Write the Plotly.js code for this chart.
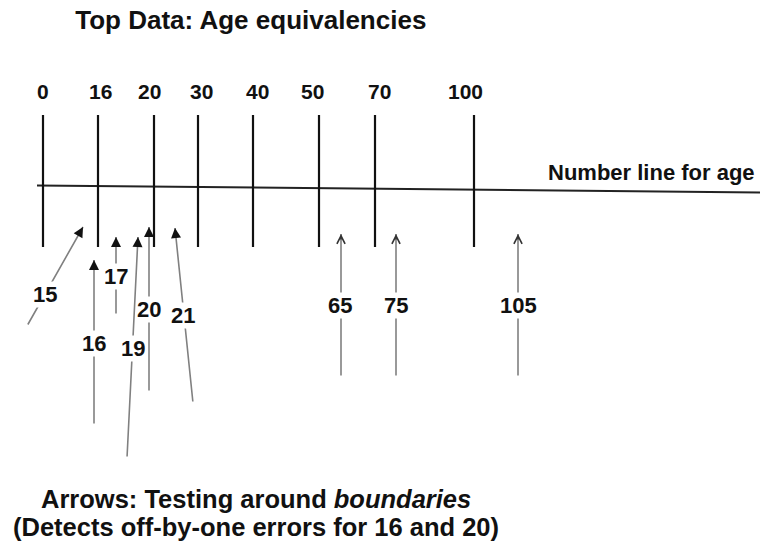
<!DOCTYPE html>
<html>
<head>
<meta charset="utf-8">
<script src="https://cdn.plot.ly/plotly-3.0.1.min.js"></script>
<style>html,body{margin:0;padding:0;background:#fff;}#chart{width:760px;height:543px;}</style>
</head>
<body>
<div id="chart"></div>
<script>
// Number line tick marks (labels and their place along the drawn line)
const tickLabels = ['0', '16', '20', '30', '40', '50', '70', '100'];
const tickX = [43, 98, 154, 198, 253, 319, 375, 474];
const tickLabelX = [43, 100, 149, 201, 257, 312, 379, 465];

// Number line itself
const lineX = [37, 760];
const lineY = [185.5, 192.5];

// Test-value arrows
const arrowLabels = ['15', '16', '17', '19', '20', '21', '65', '75', '105'];
const arrowTipX = [83, 94, 116, 138, 149, 175, 341, 396, 518];
const arrowTipY = [227, 260, 237, 237, 227, 228, 234, 234, 234];
const arrowTailX = [27, 94, 116, 127, 149, 193, 341, 396, 518];
const arrowTailY = [326, 425, 315, 458, 392, 403, 377, 377, 377];
const arrowLabelX = [45, 94, 116, 133, 149, 183, 340, 396, 518];
const arrowLabelY = [294, 343, 276, 348, 309, 315, 305, 305, 305];
const arrowFilled = [true, true, true, true, true, true, false, false, false];

const FONT = 'Liberation Sans, Arial, Helvetica, sans-serif';

// tick segments
const tx = [], ty = [];
tickX.forEach(x => { tx.push(x, x, null); ty.push(115, 247, null); });

const traces = [
  {x: lineX, y: lineY, mode: 'lines', line: {color: '#222', width: 2}, hoverinfo: 'skip', showlegend: false},
  {x: tx, y: ty, mode: 'lines', line: {color: '#111', width: 2.2}, hoverinfo: 'skip', showlegend: false}
];

const annotations = [];
// Tick labels
tickLabels.forEach((t, i) => {
  annotations.push({x: tickLabelX[i], y: 91, xref: 'x', yref: 'y', text: '<b>' + t + '</b>',
    showarrow: false, font: {family: FONT, size: 21, color: '#111'}});
});
// Arrow shafts (gray)
arrowLabels.forEach((t, i) => {
  annotations.push({x: arrowTipX[i], y: arrowTipY[i], ax: arrowTailX[i], ay: arrowTailY[i],
    xref: 'x', yref: 'y', axref: 'x', ayref: 'y', text: '', showarrow: true,
    arrowhead: 0, arrowwidth: 1.6, arrowcolor: '#808080'});
});
// Arrow heads (dark), drawn over the shaft tip
arrowLabels.forEach((t, i) => {
  const dx = arrowTailX[i] - arrowTipX[i], dy = arrowTailY[i] - arrowTipY[i];
  const len = Math.sqrt(dx * dx + dy * dy);
  const back = 7;
  annotations.push({x: arrowTipX[i], y: arrowTipY[i],
    ax: arrowTipX[i] + dx / len * back, ay: arrowTipY[i] + dy / len * back,
    xref: 'x', yref: 'y', axref: 'x', ayref: 'y', text: '', showarrow: true,
    arrowhead: arrowFilled[i] ? 2 : 5, arrowsize: arrowFilled[i] ? 1.25 : 1.0, arrowwidth: 1.6,
    arrowcolor: arrowFilled[i] ? '#111' : '#333'});
});
arrowLabels.forEach((t, i) => {
  annotations.push({x: arrowLabelX[i], y: arrowLabelY[i], xref: 'x', yref: 'y',
    text: '<b>' + t + '</b>', showarrow: false, bgcolor: '#fff', borderpad: 0,
    font: {family: FONT, size: 22, color: '#111'}});
});
// Line label
annotations.push({x: 757, y: 172, xref: 'x', yref: 'y', xanchor: 'right', text: '<b>Number line for age</b>',
  showarrow: false, font: {family: FONT, size: 22, color: '#111'}});
// Bottom caption
annotations.push({x: 256, y: 499, xref: 'x', yref: 'y', text: '<b>Arrows: Testing around <i>boundaries</i></b>',
  showarrow: false, font: {family: FONT, size: 25.5, color: '#111'}});
annotations.push({x: 256, y: 527, xref: 'x', yref: 'y', text: '<b>(Detects off-by-one errors for 16 and 20)</b>',
  showarrow: false, font: {family: FONT, size: 25.5, color: '#111'}});

const layout = {
  width: 760, height: 543,
  margin: {l: 0, r: 0, t: 0, b: 0},
  paper_bgcolor: '#fff', plot_bgcolor: '#fff',
  title: {text: '<b>Top Data: Age equivalencies</b>', x: 0.33, xanchor: 'center', y: 0.963, yanchor: 'middle',
    font: {family: FONT, size: 26, color: '#111'}},
  xaxis: {range: [0, 760], visible: false, fixedrange: true},
  yaxis: {range: [543, 0], visible: false, fixedrange: true},
  annotations: annotations,
  showlegend: false
};

Plotly.newPlot('chart', traces, layout, {displayModeBar: false, staticPlot: true});
</script>
</body>
</html>
